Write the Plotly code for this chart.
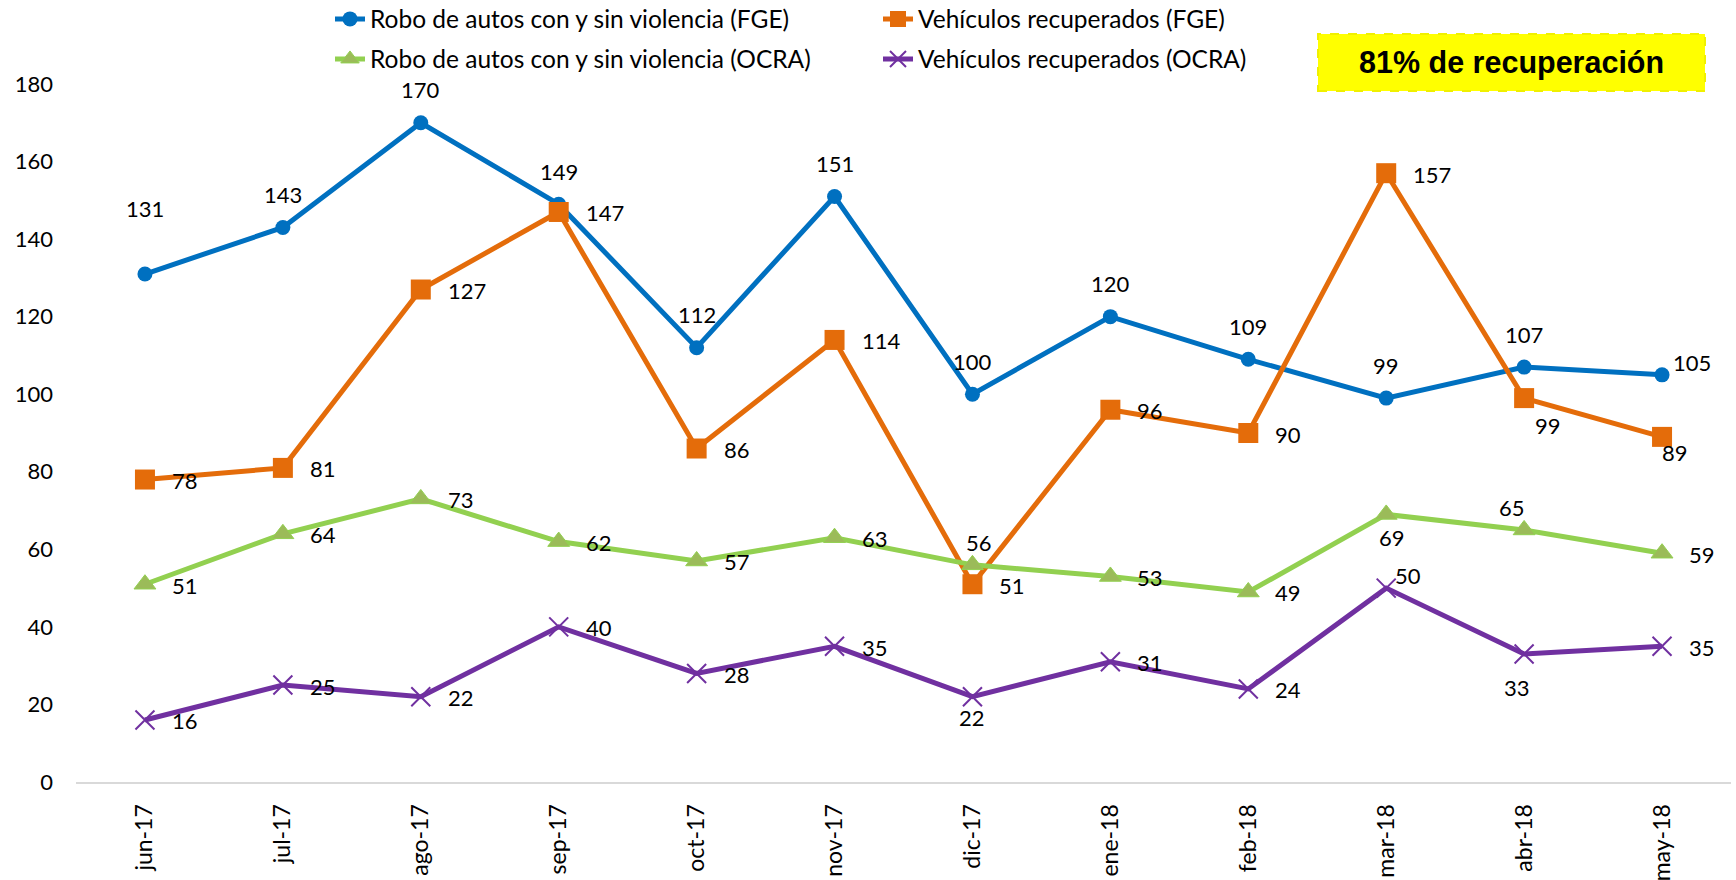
import plotly.graph_objects as go

# categories and series values
months = ["jun-17", "jul-17", "ago-17", "sep-17", "oct-17", "nov-17",
          "dic-17", "ene-18", "feb-18", "mar-18", "abr-18", "may-18"]
robo_fge = [131, 143, 170, 149, 112, 151, 100, 120, 109, 99, 107, 105]
recup_fge = [78, 81, 127, 147, 86, 114, 51, 96, 90, 157, 99, 89]
robo_ocra = [51, 64, 73, 62, 57, 63, 56, 53, 49, 69, 65, 59]
recup_ocra = [16, 25, 22, 40, 28, 35, 22, 31, 24, 50, 33, 35]
y_ticks = [0, 20, 40, 60, 80, 100, 120, 140, 160, 180]

# label placement per point: (xanchor, xshift px, yshift px)
R = ("left", 25, -1)
lbl_robo_fge = [("center", 0, 66)] + [("center", 0, 33)] * 10 + [("center", 30, 12)]
lbl_recup_fge = [R] * 10 + [("center", 24, -27), ("center", 13, -16)]
lbl_robo_ocra = [R] * 6 + [("center", 7, 22), R, R, ("center", 6, -23), ("center", -12, 22), R]
lbl_recup_ocra = [R] * 6 + [("center", 0, -21), R, R, ("left", 7, 13), ("center", -7, -33), R]

FONT = "Lato"
W, H = 1736, 880
ML, MR, MT, MB = 76, 5, 84, 98

series = [
    dict(name="Robo de autos con y sin violencia (FGE)", y=robo_fge, color="#0070C0",
         marker=dict(symbol="circle", size=15, color="#0070C0"), legend="legend", lbl=lbl_robo_fge),
    dict(name="Vehículos recuperados (FGE)", y=recup_fge, color="#E46C0A",
         marker=dict(symbol="square", size=20, color="#E46C0A"), legend="legend", lbl=lbl_recup_fge),
    dict(name="Robo de autos con y sin violencia (OCRA)", y=robo_ocra, color="#92D050",
         marker=dict(symbol="triangle-up", size=19, color="#9BBB59", line=dict(color="#92D050", width=1)),
         legend="legend2", lbl=lbl_robo_ocra),
    dict(name="Vehículos recuperados (OCRA)", y=recup_ocra, color="#7030A0",
         marker=dict(symbol="x-thin", size=19, color="#7030A0", line=dict(color="#7030A0", width=2)),
         legend="legend2", lbl=lbl_recup_ocra),
]

fig = go.Figure()
annotations = []
for s in series:
    fig.add_trace(go.Scatter(
        x=months, y=s["y"], name=s["name"], mode="lines+markers",
        line=dict(color=s["color"], width=5), marker=s["marker"],
        legend=s["legend"], hoverinfo="x+y",
    ))
    for m, v, (anc, dx, dy) in zip(months, s["y"], s["lbl"]):
        annotations.append(dict(
            x=m, y=v, text=str(v), showarrow=False, xanchor=anc, yanchor="middle",
            xshift=dx, yshift=dy, font=dict(family=FONT, size=22, color="#000000"),
        ))

# highlight box
pw, ph = W - ML - MR, H - MT - MB
bx0, bx1, by0, by1 = 1318, 1705, 34, 91
fig.add_shape(type="rect", xref="paper", yref="paper",
              x0=(bx0 - ML) / pw, x1=(bx1 - ML) / pw,
              y0=(H - MB - by1) / ph, y1=(H - MB - by0) / ph,
              fillcolor="#FFFF00", line=dict(color="#F0F000", width=2, dash="dash"), layer="above")
annotations.append(dict(
    xref="paper", yref="paper", x=((bx0 + bx1) / 2 - ML) / pw, y=(H - MB - (by0 + by1) / 2) / ph,
    text="<b>81% de recuperación</b>", showarrow=False, xanchor="center", yanchor="middle",
    font=dict(family="Liberation Sans", size=30.5, color="#000000"),
))

legend_common = dict(
    orientation="h", xanchor="left", yanchor="middle", entrywidthmode="pixels", entrywidth=503,
    font=dict(family=FONT, size=24.5, color="#000000"), bgcolor="rgba(0,0,0,0)", itemwidth=30,
    tracegroupgap=0,
)
fig.update_layout(
    width=W, height=H,
    margin=dict(l=ML, r=MR, t=MT, b=MB, autoexpand=False),
    paper_bgcolor="white", plot_bgcolor="white",
    font=dict(family=FONT, size=22, color="#000000"),
    showlegend=True,
    legend=dict(x=(330 - ML) / pw, y=(H - MB - 19) / ph, **legend_common),
    legend2=dict(x=(330 - ML) / pw, y=(H - MB - 59) / ph, **legend_common),
    annotations=annotations,
    xaxis=dict(
        type="category", range=[-0.5, 11.5], tickangle=-90, showgrid=False, automargin=False,
        showline=True, linecolor="#D9D9D9", linewidth=2, ticks="",
        ticklabelstandoff=11, tickfont=dict(family=FONT, size=23, color="#000000"),
    ),
    yaxis=dict(
        range=[0, 180], tickvals=y_ticks, showgrid=False, zeroline=False, showline=False,
        automargin=False, ticks="", ticklabelstandoff=22,
        tickfont=dict(family=FONT, size=22, color="#000000"),
    ),
)

# page body has a default 8px margin; drop it so the figure fills the window
fig.write_html("out.html", config={"displayModeBar": False},
               post_script="document.body.style.margin='0';")
